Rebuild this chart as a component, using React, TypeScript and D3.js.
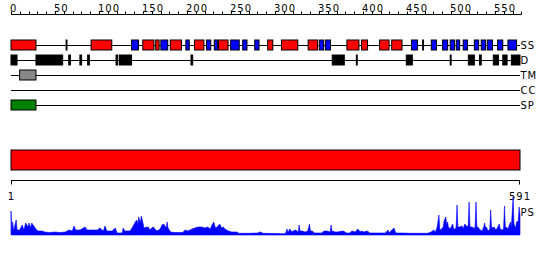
import React from "react";
import * as d3 from "d3";

const seqLength = 591;

// ruler
const rulerMax = 580;
const rulerLabels = [0, 50, 100, 150, 200, 250, 300, 350, 400, 450, 500, 550];

// secondary structure (H = helix, E = strand, X = other)
const ssStart = [1, 65, 94, 141, 154, 169, 175, 186, 204, 214, 228, 237, 242, 256, 270, 284, 299, 315, 346, 359, 366, 391, 408, 429, 443, 466, 479, 489, 502, 511, 518, 526, 539, 547, 554, 566, 578];
const ssEnd = [29, 65, 117, 148, 166, 172, 182, 198, 207, 224, 232, 240, 252, 265, 274, 288, 304, 333, 356, 363, 371, 404, 414, 439, 454, 472, 479, 494, 507, 515, 521, 530, 543, 551, 559, 571, 587];
const ssType = ["H", "X", "H", "E", "H", "H", "E", "H", "E", "H", "E", "E", "H", "E", "E", "E", "H", "H", "H", "E", "E", "H", "H", "H", "H", "E", "X", "E", "E", "E", "E", "E", "E", "E", "E", "E", "E"];

// disorder
const dStart = [1, 30, 68, 81, 90, 123, 127, 210, 374, 402, 460, 511, 532, 545, 561, 572, 582];
const dEnd = [7, 60, 69, 82, 91, 124, 140, 211, 387, 402, 466, 511, 538, 546, 566, 576, 591];

// transmembrane, coiled coil, signal peptide
const tmStart = [11];
const tmEnd = [29];
const spStart = [1];
const spEnd = [29];

const trackLabels = ["SS", "D", "TM", "CC", "SP"];

// PS profile
const psRes = [1, 2, 3, 4, 7, 8, 11, 14, 16, 18, 21, 22, 24, 25, 29, 32, 37, 40, 46, 52, 58, 64, 68, 72, 74, 76, 81, 87, 89, 95, 101, 104, 108, 110, 112, 118, 122, 124, 130, 131, 133, 139, 142, 145, 147, 148, 149, 151, 152, 154, 155, 159, 160, 162, 164, 166, 170, 174, 176, 178, 181, 182, 183, 186, 191, 197, 200, 203, 206, 211, 214, 218, 222, 226, 229, 232, 234, 236, 238, 240, 243, 245, 247, 249, 253, 257, 263, 265, 278, 287, 290, 293, 307, 319, 321, 322, 324, 327, 328, 331, 334, 335, 336, 338, 342, 345, 347, 348, 350, 353, 361, 364, 367, 371, 372, 373, 377, 379, 386, 390, 394, 396, 400, 403, 406, 407, 410, 414, 417, 429, 435, 438, 439, 440, 445, 447, 454, 464, 475, 484, 488, 491, 493, 495, 497, 498, 499, 502, 503, 505, 506, 507, 508, 510, 513, 514, 516, 517, 518, 519, 521, 524, 525, 527, 530, 531, 532, 533, 536, 538, 539, 540, 541, 542, 545, 547, 549, 550, 551, 552, 554, 556, 557, 558, 561, 563, 564, 567, 568, 570, 572, 573, 574, 575, 577, 580, 581, 582, 583, 584, 586, 587, 589, 590, 591];
const psVal = [24, 5, 13, 4, 15, 5, 5, 10, 5, 12, 8, 12, 7, 12, 7, 4, 4, 3, 2.5, 3, 2.5, 3, 5, 4, 9, 5, 5, 8, 5, 5, 5, 7, 4, 9, 4, 4, 7, 2, 2, 7, 4, 4, 8, 13, 15, 10, 18, 12, 19, 12, 7, 8, 8, 5, 7, 8, 4, 6, 10, 11, 7, 13, 7, 3, 2.5, 2.5, 2.5, 5, 4, 6, 7, 8, 8, 7, 8, 6, 10, 13, 7, 8, 11, 7, 8, 6, 4, 3, 3, 1.7, 1.7, 2, 3, 1.7, 1.5, 1.2, 6, 2, 6, 3, 4, 5, 3, 10, 4, 4, 3, 4, 11, 4, 4, 2, 2, 4, 4, 3, 10, 4, 3, 3, 4, 2, 2, 4, 3, 6, 3, 4, 3, 4, 2, 2, 2, 5, 2, 3, 7, 2, 2, 1.7, 1.7, 1.7, 3, 5, 3, 8, 20, 6, 5, 8, 14, 18, 10, 13, 8, 6, 11, 6, 6, 8, 30, 8, 8, 9, 6, 11, 8, 10, 33, 8, 8, 6, 9, 33, 8, 8, 5, 4, 8, 12, 7, 8, 4, 6, 25, 7, 8, 5, 6, 11, 6, 5, 6, 29, 7, 8, 6, 13, 8, 23, 38, 11, 7, 13, 14, 28, 20];

const FONT = "'DejaVu Sans', sans-serif";

export default function App() {
  const W = 550;
  const H = 260;
  const x = d3.scaleLinear().domain([1, seqLength + 1]).range([11, 520]);
  const xr = d3.scaleLinear().domain([0, rulerMax]).range([11, 521.4]);
  const xp = d3.scaleLinear().domain([1, seqLength]).range([11, 520]);
  const yp = d3.scaleLinear().domain([0, 40]).range([235, 195]);

  const rowY = [45, 60, 75, 90, 105];
  const rulerTicks = d3.range(0, rulerMax + 1, 10);
  const ssColor: Record<string, string> = { H: "#ff0000", E: "#0000ff", X: "#000000" };

  const psData = psRes.map((r, i) => [r, psVal[i]] as [number, number]);
  const area = d3
    .area<[number, number]>()
    .x((d) => xp(d[0]))
    .y0(yp(0))
    .y1((d) => yp(d[1]));

  const box = (s: number, e: number, y: number, fill: string, key: string) => (
    <rect
      key={key}
      x={x(s)}
      y={y - 5}
      width={x(e + 1) - x(s)}
      height={10}
      fill={fill}
      stroke="#000"
      strokeWidth={1}
    />
  );

  return (
    <svg
      width={W}
      height={H}
      style={{ position: "absolute", left: 0, top: 0, background: "#fff" }}
      fontFamily={FONT}
      fontSize={10}
    >
      {/* ruler */}
      <line x1={xr(0)} x2={xr(rulerMax)} y1={14.5} y2={14.5} stroke="#000" />
      {rulerTicks.map((t) => (
        <line key={"rt" + t} x1={Math.round(xr(t)) + 0.5} x2={Math.round(xr(t)) + 0.5} y1={11.5} y2={14.5} stroke="#000" />
      ))}
      {rulerLabels.map((t) => (
        <text key={"rl" + t} x={xr(t) - 1} y={11.5} letterSpacing={1} fill="#000">
          {t}
        </text>
      ))}

      {/* track lines */}
      {rowY.map((y, i) => (
        <line key={"tl" + i} x1={11} x2={520} y1={y + 0.5} y2={y + 0.5} stroke="#000" />
      ))}
      {trackLabels.map((l, i) => (
        <text key={"lb" + l} x={520.5} y={rowY[i] + 3.5} letterSpacing={1} fill="#000">
          {l}
        </text>
      ))}

      {/* SS */}
      {ssStart.map((s, i) => box(s, ssEnd[i], rowY[0], ssColor[ssType[i]], "ss" + i))}
      {/* Disorder */}
      {dStart.map((s, i) => box(s, dEnd[i], rowY[1], "#000", "d" + i))}
      {/* TM */}
      {tmStart.map((s, i) => box(s, tmEnd[i], rowY[2], "#888888", "tm" + i))}
      {/* SP */}
      {spStart.map((s, i) => box(s, spEnd[i], rowY[4], "#008000", "sp" + i))}

      {/* domain bar */}
      <rect x={x(1)} y={150} width={x(seqLength + 1) - x(1)} height={20} fill="#ff0000" stroke="#000" />

      {/* bottom axis */}
      <line x1={x(1)} x2={x(seqLength + 1)} y1={180.5} y2={180.5} stroke="#000" />
      <line x1={x(1) + 0.5} x2={x(1) + 0.5} y1={180.5} y2={184.5} stroke="#000" />
      <line x1={x(seqLength + 1) - 0.5} x2={x(seqLength + 1) - 0.5} y1={180.5} y2={184.5} stroke="#000" />
      <text x={x(1)} y={200} textAnchor="middle" fill="#000">1</text>
      <text x={x(seqLength + 1)} y={200} textAnchor="middle" letterSpacing={1} fill="#000">{seqLength}</text>

      {/* PS profile */}
      <path d={area(psData) || ""} fill="#0000ff" stroke="#0000ff" strokeWidth={0.6} />
      <text x={520.5} y={216} letterSpacing={1} fill="#000">PS</text>
    </svg>
  );
}
